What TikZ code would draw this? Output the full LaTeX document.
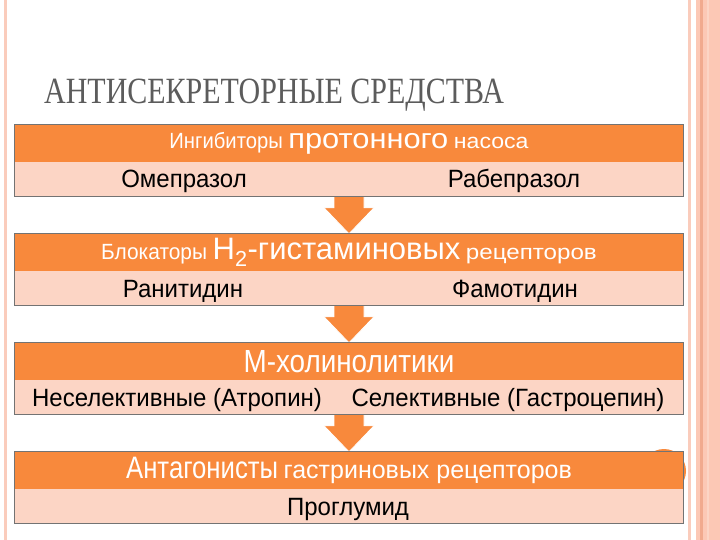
\documentclass[tikz,border=0pt]{standalone}
\usepackage{fontspec}
\usepackage{graphicx}
\setmainfont{Liberation Serif}
\newfontfamily\slidesans{Liberation Sans}[FakeStretch=0.96]
\newfontfamily\headsans{Liberation Sans}
\newfontfamily\slidetitle{Liberation Serif}[FakeStretch=0.81]
\usetikzlibrary{positioning,calc,backgrounds}

\definecolor{headorange}{RGB}{248,137,60}
\definecolor{bodypeach}{RGB}{252,213,197}
\definecolor{titlegray}{RGB}{92,92,92}
\definecolor{edgepeach}{RGB}{250,204,188}
\definecolor{stripdark}{RGB}{241,170,142}
\definecolor{stripfill}{RGB}{252,200,181}

\tikzset{every picture/.style = {x=1pt, y=-1pt}}
\tikzset{head/.style = {fill=headorange, text=white, minimum width=668pt,
  minimum height=37pt, inner sep=0, font=\headsans\fontsize{20}{24}\selectfont}}
\tikzset{body/.style = {fill=bodypeach, minimum width=668pt, minimum height=34pt, inner sep=0}}
\tikzset{item/.style = {anchor=base, inner sep=0, font=\slidesans\fontsize{25}{28}\selectfont}}
\tikzset{frame/.style = {draw=black!55, line width=0.8pt}}
\tikzset{flowarrow/.style = {fill=headorange, draw=white, line width=0.8pt}}

% one run of header text: size, horizontal scale, text
\newcommand{\hrun}[3]{\scalebox{#2}[1]{\fontsize{#1}{#1}\selectfont #3}}
\newcommand{\flowdown}[2]{%
  \filldraw[flowarrow] ($(#1.south)+(-15,-2)$) -- ($(#2.north)+(-15,-26)$)
    -- ($(#2.north)+(-25,-26)$) -- (#2.north) -- ($(#2.north)+(25,-26)$)
    -- ($(#2.north)+(15,-26)$) -- ($(#1.south)+(15,-2)$) -- cycle;}

\begin{document}
\begin{tikzpicture}
  \useasboundingbox (0,0) rectangle (720,540);
  % slide border
  \fill[edgepeach] (4,0) rectangle (7,540);
  \fill[edgepeach] (688,0) rectangle (691,540);
  \fill[stripfill] (696,0) rectangle (720,540);
  \fill[stripdark] (700,0) rectangle (703,540);
  \fill[bodypeach] (707,0) rectangle (709,540);

  \node[anchor=base west, inner sep=0, text=titlegray,
    font=\slidetitle\fontsize{37}{40}\selectfont] (title) at (44,104)
    {АНТИСЕКРЕТОРНЫЕ СРЕДСТВА};

  % boxes
  \node[head] (h1) at (349,143.5)
    {\hrun{22}{0.92}{Ингибиторы} \hrun{28}{1.1}{протонного} \hrun{21}{1.1}{насоса}};
  \node[body, below=0pt of h1] (b1) {};
  \node[item] (omep) at (184,188) {Омепразол};
  \node[item] (rabe) at (514,188) {Рабепразол};
  \draw[frame] (h1.north west) rectangle (b1.south east);

  \node[head] (h2) at (349,252.5)
    {\hrun{22}{0.95}{Блокаторы} \hrun{31}{1.0}{H\textsubscript{2}-гистаминовых}
     \hrun{21}{1.15}{рецепторов}};
  \node[body, below=0pt of h2] (b2) {};
  \node[item] (rani) at (183,297) {Ранитидин};
  \node[item] (famo) at (515,297) {Фамотидин};
  \draw[frame] (h2.north west) rectangle (b2.south east);

  \node[head] (h3) at (349,361.5) {\hrun{32}{0.87}{М-холинолитики}};
  \node[body, below=0pt of h3] (b3) {};
  \node[item] (nonsel) at (177,406) {Неселективные (Атропин)};
  \node[item] (sel) at (508,406) {Селективные (Гастроцепин)};
  \draw[frame] (h3.north west) rectangle (b3.south east);

  \node[head] (h4) at (349,470.5)
    {\hrun{31}{0.83}{Антагонисты} \hrun{25}{1.0}{гастриновых рецепторов}};
  \node[body, below=0pt of h4] (b4) {};
  \node[item] (progl) at (348,515) {Проглумид};
  \draw[frame] (h4.north west) rectangle (b4.south east);

  \begin{pgfonlayer}{background}
    \fill[headorange] (664,471) circle[radius=22pt];
    \flowdown{b1}{h2}
    \flowdown{b2}{h3}
    \flowdown{b3}{h4}
  \end{pgfonlayer}
\end{tikzpicture}
\end{document}
